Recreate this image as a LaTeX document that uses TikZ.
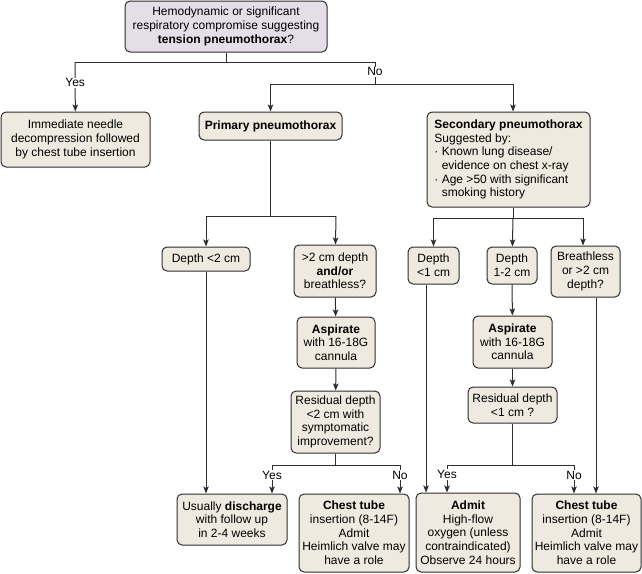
\documentclass[tikz,border=0pt]{standalone}
\usepackage{fontspec}
\setmainfont{Liberation Sans}
\usetikzlibrary{arrows.meta}
\definecolor{boxfill}{HTML}{EEEADF}
\definecolor{askfill}{HTML}{E3DEE7}
\definecolor{ink}{HTML}{2E2E2E}
\begin{document}
\begin{tikzpicture}[x=1pt,y=-1pt,color=ink,line width=1pt,
    every node/.style={font=\fontsize{12}{13.7}\selectfont,text=black},
    card/.style={draw=ink,fill=boxfill,rounded corners=5pt,align=center,inner sep=2pt},
    ask/.style={card,fill=askfill},
    lab/.style={fill=white,inner sep=1pt},
    >={Stealth[length=7pt,width=5.5pt,inset=1.5pt]}]
      \useasboundingbox (0,0) rectangle (642,573);
      \draw
        (226,26.5) node[ask,minimum width=202pt,minimum height=51pt] (tension){Hemodynamic or significant\\respiratory compromise suggesting\\\textbf{tension pneumothorax}?}
        (75.5,139.5) node[card,minimum width=149pt,minimum height=55pt] (needle){Immediate needle\\decompression followed\\by chest tube insertion}
        (270.5,126) node[card,minimum width=143pt,minimum height=28pt] (primary){\textbf{Primary pneumothorax}}
        (508.5,159.5) node[card,align=left,inner xsep=6pt,minimum width=163pt,minimum height=95pt] (secondary){\textbf{Secondary pneumothorax}\\Suggested by:\\· Known lung disease/\\\hphantom{· }evidence on chest x-ray\\· Age >50 with significant\\\hphantom{· }smoking history}
        (206,259) node[card,minimum width=88pt,minimum height=24pt] (lt2){Depth <2 cm}
        (335,271) node[card,minimum width=82pt,minimum height=52pt] (gt2){>2 cm depth\\\textbf{and/or}\\breathless?}
        (336,342.5) node[card,minimum width=78pt,minimum height=51pt] (aspa){\textbf{Aspirate}\\with 16-18G\\cannula}
        (335.5,422) node[card,minimum width=89pt,minimum height=62pt] (resa){Residual depth\\<2 cm with\\symptomatic\\improvement?}
        (433.5,265.5) node[card,minimum width=51pt,minimum height=37pt] (lt1){Depth\\<1 cm}
        (512,265.5) node[card,minimum width=50pt,minimum height=37pt] (mid){Depth\\1-2 cm}
        (585.5,271.5) node[card,minimum width=69pt,minimum height=51pt] (breath){Breathless\\or >2 cm\\depth?}
        (512.5,342) node[card,minimum width=79pt,minimum height=52pt] (aspb){\textbf{Aspirate}\\with 16-18G\\cannula}
        (512.5,405) node[card,minimum width=89pt,minimum height=36pt] (resb){Residual depth\\<1 cm ?}
        (232,519.5) node[card,minimum width=110pt,minimum height=51pt] (discharge){Usually \textbf{discharge}\\with follow up\\in 2-4 weeks}
        (354,533) node[card,minimum width=110pt,minimum height=78pt] (tubea){\textbf{Chest tube}\\insertion (8-14F)\\Admit\\Heimlich valve may\\have a role}
        (468,532.5) node[card,minimum width=104pt,minimum height=79pt] (admit){\textbf{Admit}\\High-flow\\oxygen (unless\\contraindicated)\\Observe 24 hours}
        (586.5,533) node[card,minimum width=109pt,minimum height=78pt] (tubeb){\textbf{Chest tube}\\insertion (8-14F)\\Admit\\Heimlich valve may\\have a role};
      \coordinate (split) at (226,62);
      \coordinate (yes) at (75,62);
      \coordinate (no) at (375,62);
      \coordinate (nofoot) at (375,84);
      \coordinate (toprim) at (270.5,84);
      \coordinate (tosec) at (513,84);
      \coordinate (prleft) at (206,216);
      \coordinate (prright) at (336,216);
      \coordinate (secleft) at (433.5,218);
      \coordinate (secright) at (583,218);
      \coordinate (ryes) at (272,465);
      \coordinate (rno) at (400,465);
      \coordinate (syes) at (447,465);
      \coordinate (sno) at (574,465);
      \begin{scope}[-]
        \draw (tension) to (split);
        \draw (yes) to (no);
        \draw (no) to node[lab,pos=0.45]{No} (nofoot);
        \draw (toprim) to (tosec);
        \draw (primary) to (primary.south |- prleft);
        \draw (prleft) to (prright);
        \draw (tosec |- secondary.south) to (tosec |- secleft);
        \draw (secleft) to (secright);
        \draw (resa) to (resa.south |- ryes);
        \draw (ryes) to (rno);
        \draw (resb) to (resb.south |- syes);
        \draw (syes) to (sno);
      \end{scope}
      \begin{scope}[->]
        \draw (yes) to node[lab,pos=0.42]{Yes} (needle);
        \draw (toprim) to (primary);
        \draw (tosec) to (tosec |- secondary.north);
        \draw (prleft) to (lt2);
        \draw (prright) to (gt2);
        \draw (gt2) to (aspa);
        \draw (aspa) to (resa);
        \draw (lt2) to (lt2.south |- discharge.north);
        \draw (ryes) to node[lab,pos=0.35]{Yes} (ryes |- discharge.north);
        \draw (rno) to node[lab,pos=0.35]{No} (rno |- tubea.north);
        \draw (secleft) to (lt1);
        \draw (tosec |- secleft) to (mid);
        \draw (secright) to (secright |- breath.north);
        \draw (mid) to (aspb);
        \draw (aspb) to (resb);
        \draw ([xshift=-7.5pt]lt1.south) to ([xshift=-7.5pt]lt1.south |- admit.north);
        \draw ([xshift=10.5pt]breath.south) to ([xshift=10.5pt]breath.south |- tubeb.north);
        \draw (syes) to node[lab,pos=0.35]{Yes} (syes |- admit.north);
        \draw (sno) to node[lab,pos=0.35]{No} (sno |- tubeb.north);
      \end{scope}
\end{tikzpicture}
\end{document}
